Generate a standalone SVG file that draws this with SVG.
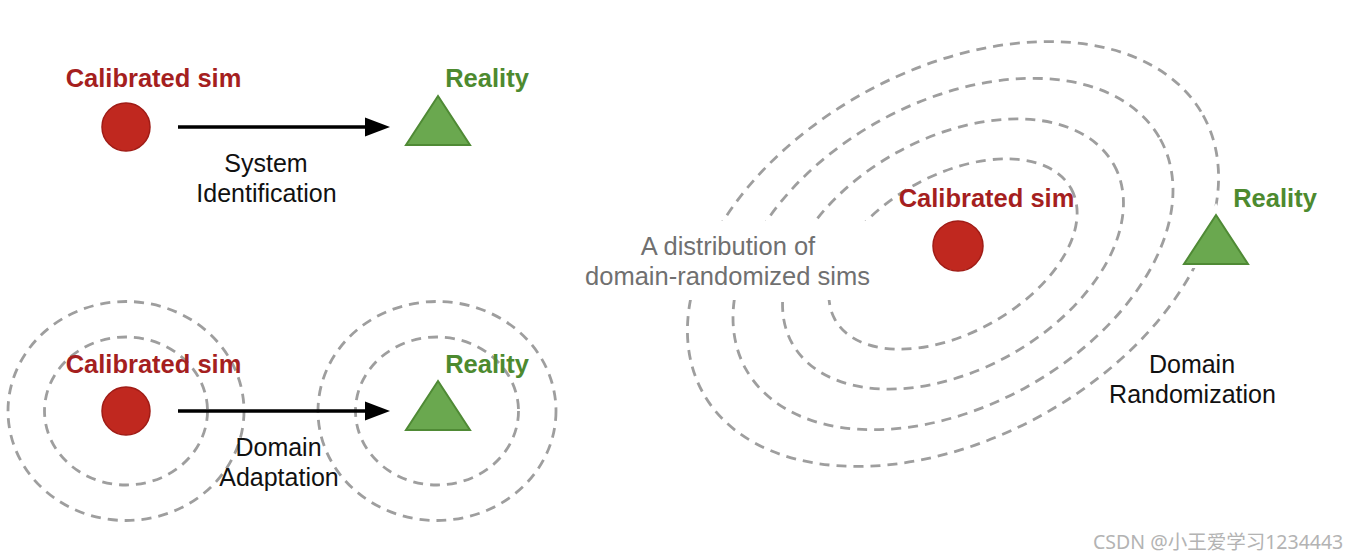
<svg xmlns="http://www.w3.org/2000/svg" width="1357" height="559" viewBox="0 0 1357 559">
  <style>
    .sim { fill: #a51f1f; font-family: "Liberation Sans", Arial, sans-serif; font-weight: bold; font-size: 25.5px; text-anchor: middle; }
    .real { fill: #4d8a2f; font-family: "Liberation Sans", Arial, sans-serif; font-weight: bold; font-size: 25.5px; text-anchor: middle; }
    .lbl { fill: #111; font-family: "Liberation Sans", Arial, sans-serif; font-size: 25px; text-anchor: middle; }
    .glbl { fill: #707070; font-family: "Liberation Sans", Arial, sans-serif; font-size: 25.5px; text-anchor: middle; }
    .dot { fill: #c0281f; stroke: #a01c16; stroke-width: 1.5; }
    .tri { fill: #6aa84f; stroke: #4f8a35; stroke-width: 2; stroke-linejoin: miter; }
    .ring { fill: none; stroke: #9e9e9e; stroke-width: 2.8; stroke-dasharray: 10 7; }
    .arrow { stroke: #000; stroke-width: 3.5; fill: none; }
  </style>
  <defs>
    <marker id="head" markerUnits="userSpaceOnUse" markerWidth="25" markerHeight="20" refX="5" refY="10" viewBox="0 0 25 20" orient="auto">
      <path d="M0,0.5 L25,10 L0,19.5 z" fill="#000"/>
    </marker>
    <mask id="gap" maskUnits="userSpaceOnUse" x="0" y="0" width="1357" height="559">
      <rect x="0" y="0" width="1357" height="559" fill="#fff"/>
      <rect x="600" y="221" width="280" height="79" fill="#000"/>
      <polygon points="1216,203 1178,268 1254,268" fill="#000"/>
    </mask>
  </defs>
  <rect width="1357" height="559" fill="#fff"/>

  <g id="rings-da">
    <ellipse class="ring" cx="126" cy="411" rx="118" ry="109.5"/>
    <ellipse class="ring" cx="126" cy="411" rx="81.5" ry="74"/>
    <ellipse class="ring" cx="437" cy="411" rx="119" ry="109.5"/>
    <ellipse class="ring" cx="437" cy="411" rx="81.5" ry="74"/>
  </g>

  <g id="rings-dr" mask="url(#gap)">
    <g transform="translate(953,254) rotate(-29)">
      <ellipse class="ring" cx="0" cy="0" rx="135" ry="79"/>
      <ellipse class="ring" cx="0" cy="0" rx="184" ry="116"/>
      <ellipse class="ring" cx="0" cy="0" rx="237" ry="152"/>
      <ellipse class="ring" cx="0" cy="0" rx="286" ry="184"/>
    </g>
  </g>

  <g id="connectors">
    <line class="arrow" x1="178" y1="127" x2="370" y2="127" marker-end="url(#head)"/>
    <line class="arrow" x1="178" y1="411" x2="370" y2="411" marker-end="url(#head)"/>
  </g>

  <g id="sysid-sim">
    <text class="sim" x="153.5" y="87">Calibrated sim</text>
    <circle class="dot" cx="126" cy="127" r="24"/>
  </g>
  <g id="sysid-reality">
    <text class="real" x="487" y="87">Reality</text>
    <polygon class="tri" points="438,96 470,145 406,145"/>
  </g>
  <g id="sysid-label">
    <text class="lbl" x="266" y="172">System</text>
    <text class="lbl" x="266.5" y="202">Identification</text>
  </g>

  <g id="da-sim">
    <text class="sim" x="153.5" y="373">Calibrated sim</text>
    <circle class="dot" cx="126" cy="411" r="24"/>
  </g>
  <g id="da-reality">
    <text class="real" x="487" y="373">Reality</text>
    <polygon class="tri" points="438,381 470,430 406,430"/>
  </g>
  <g id="da-label">
    <text class="lbl" x="278.5" y="456">Domain</text>
    <text class="lbl" x="279" y="486">Adaptation</text>
  </g>

  <g id="dr-sim">
    <text class="sim" x="986.5" y="207">Calibrated sim</text>
    <circle class="dot" cx="958" cy="246" r="25"/>
  </g>
  <g id="dr-reality">
    <text class="real" x="1275" y="207">Reality</text>
    <polygon class="tri" points="1216,215 1248,264 1184,264"/>
  </g>
  <g id="dr-dist-label">
    <text class="glbl" x="728" y="255">A distribution of</text>
    <text class="glbl" x="727.5" y="285">domain-randomized sims</text>
  </g>
  <g id="dr-label">
    <text class="lbl" x="1192" y="373">Domain</text>
    <text class="lbl" x="1192.5" y="403">Randomization</text>
  </g>

  <text x="1093" y="549" font-family="'Noto Sans', 'Noto Sans CJK SC', sans-serif" font-size="19.5" fill="#b3b3b3">CSDN @小王爱学习1234443</text>
</svg>
